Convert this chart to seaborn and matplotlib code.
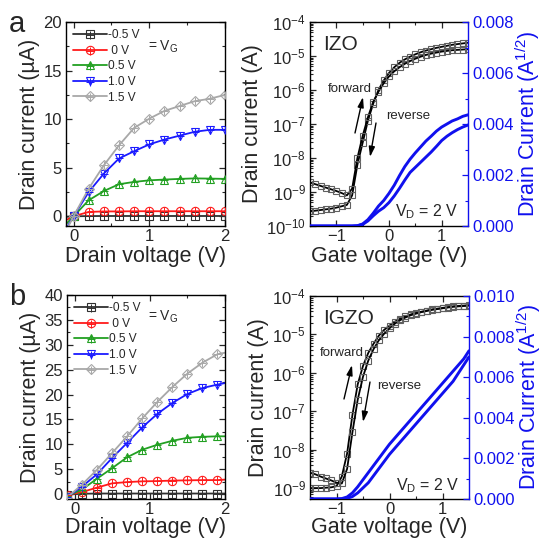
import numpy as np
import matplotlib
matplotlib.use('Agg')
import matplotlib.pyplot as plt
import seaborn as sns
from matplotlib.ticker import MultipleLocator, LogLocator, FormatStrFormatter, NullFormatter
from matplotlib.legend_handler import HandlerTuple

sns.set_theme(style='ticks')
plt.rcParams['font.family'] = ['Liberation Sans', 'DejaVu Sans']
plt.rcParams['mathtext.fontset'] = 'custom'
plt.rcParams['mathtext.rm'] = 'Liberation Sans'
plt.rcParams['mathtext.it'] = 'Liberation Sans:italic'
plt.rcParams['mathtext.default'] = 'regular'

# ---- output curves (Id vs Vd), values in uA ----
vg_labels = ['-0.5 V', ' 0 V', '0.5 V', '1.0 V', '1.5 V']
colors = ['#303030', '#ff1a1a', '#22a022', '#1a1aff', '#a8a8a8']
markers = ['s', 'o', '^', 'v', 'D']

# IZO (panel a), markers from 0 V on
vd_a = [-0.1, 0.0, 0.2, 0.4, 0.6, 0.8, 1.0, 1.2, 1.4, 1.6, 1.8, 2.0]
ia_m05 = [-0.05, 0.0, 0.02, 0.03, 0.03, 0.03, 0.03, 0.03, 0.03, 0.03, 0.03, 0.03]
ia_0 = [-0.4, 0.0, 0.45, 0.5, 0.5, 0.52, 0.52, 0.52, 0.52, 0.52, 0.52, 0.52]
ia_05 = [-0.8, 0.0, 1.65, 2.6, 3.3, 3.54, 3.7, 3.78, 3.85, 3.9, 3.88, 3.85]
ia_10 = [-1.3, 0.0, 2.5, 4.4, 5.95, 6.7, 7.4, 7.9, 8.3, 8.7, 8.9, 8.9]
ia_15 = [-1.5, 0.0, 2.85, 5.25, 7.3, 9.1, 10.05, 10.85, 11.35, 11.85, 12.1, 12.5]

# IGZO (panel b), last point has no marker
vd_b = [-0.1, 0.1, 0.3, 0.5, 0.7, 0.9, 1.1, 1.3, 1.5, 1.7, 1.9, 2.0]
ib_m05 = [-0.1, 0.05, 0.1, 0.1, 0.1, 0.1, 0.1, 0.1, 0.1, 0.1, 0.1, 0.1]
ib_0 = [-0.2, 0.4, 1.3, 2.15, 2.4, 2.55, 2.6, 2.7, 2.75, 2.8, 2.8, 2.9]
ib_05 = [-0.4, 0.9, 3.1, 5.2, 7.4, 8.9, 9.9, 10.7, 11.3, 11.5, 11.6, 11.6]
ib_10 = [-0.6, 1.5, 4.0, 7.25, 10.3, 13.4, 16.1, 18.3, 20.1, 21.3, 22.0, 22.3]
ib_15 = [-0.7, 1.9, 4.9, 8.25, 11.6, 15.2, 18.5, 21.5, 24.2, 26.4, 28.1, 28.4]

# ---- transfer curves (Id vs Vg), log10(Id / A) and sqrt(Id) ----
vg = [-1.5, -1.4, -1.3, -1.2, -1.1, -1.0, -0.9, -0.8, -0.7, -0.6, -0.5, -0.4, -0.3, -0.2, -0.1,
      0.0, 0.1, 0.2, 0.3, 0.4, 0.5, 0.6, 0.7, 0.8, 0.9, 1.0, 1.1, 1.2, 1.3, 1.4, 1.5]

izo_fwd_exp = [-9.57, -9.55, -9.53, -9.51, -9.49, -9.46, -9.42, -9.38, -9.10, -8.20, -7.55, -6.90, -6.40,
               -6.00, -5.72, -5.50, -5.33, -5.20, -5.10, -5.02, -4.95, -4.89, -4.84, -4.80, -4.76, -4.73,
               -4.70, -4.67, -4.65, -4.63, -4.61]
izo_rev_exp = [-8.72, -8.77, -8.82, -8.87, -8.92, -8.97, -9.03, -9.10, -8.90, -8.00, -7.35, -6.80, -6.35,
               -6.05, -5.80, -5.60, -5.45, -5.33, -5.23, -5.15, -5.08, -5.02, -4.97, -4.93, -4.90, -4.87,
               -4.85, -4.83, -4.82, -4.81, -4.80]
izo_sq_1 = [0, 0, 0, 0, 0, 0, 0, 0, 0, 0.00001, 0.00008, 0.00025, 0.0005, 0.00078, 0.00100, 0.00128,
            0.00160, 0.00198, 0.00233, 0.00262, 0.00287, 0.00310, 0.00333, 0.00352, 0.00372, 0.00388,
            0.00400, 0.00412, 0.00420, 0.00430, 0.00436]
izo_sq_2 = [0, 0, 0, 0, 0, 0, 0, 0, 0, 0.00001, 0.00006, 0.0002, 0.0004, 0.00058, 0.00072, 0.00092,
            0.00118, 0.00148, 0.0018, 0.0021, 0.0023, 0.0025, 0.0027, 0.0029, 0.00312, 0.00335,
            0.00352, 0.00366, 0.00378, 0.00388, 0.00396]

igzo_fwd_exp = [-9.00, -9.00, -9.00, -8.99, -8.98, -8.95, -8.70, -8.10, -7.10, -6.30, -5.82, -5.48, -5.24,
                -5.03, -4.88, -4.77, -4.67, -4.59, -4.53, -4.48, -4.44, -4.41, -4.38, -4.35, -4.33, -4.31,
                -4.29, -4.27, -4.26, -4.25, -4.24]
igzo_rev_exp = [-8.60, -8.64, -8.70, -8.75, -8.80, -8.86, -8.88, -8.50, -7.55, -6.70, -6.10, -5.68, -5.38,
                -5.15, -4.98, -4.84, -4.72, -4.63, -4.56, -4.50, -4.46, -4.42, -4.39, -4.36, -4.34, -4.32,
                -4.30, -4.28, -4.27, -4.26, -4.25]
igzo_sq_1 = [0, 0, 0, 0, 0, 0, 0.00002, 0.0001, 0.0003, 0.0006, 0.00095, 0.0013, 0.00165, 0.002, 0.00235,
             0.0027, 0.003, 0.0033, 0.0036, 0.0039, 0.0042, 0.0045, 0.0048, 0.0051, 0.0054, 0.0057,
             0.006, 0.0063, 0.0066, 0.0069, 0.0073]
igzo_sq_2 = [0, 0, 0, 0, 0, 0, 0, 0.00003, 0.00012, 0.0003, 0.00055, 0.0008, 0.00115, 0.0015, 0.00185,
             0.0022, 0.0025, 0.0028, 0.0031, 0.0034, 0.0037, 0.004, 0.0043, 0.0046, 0.0049, 0.0052,
             0.0055, 0.0058, 0.0062, 0.0066, 0.0070]

W, H = 543, 553
BLUE = '#1010ee'
LABEL_FS = 15.5
TICK_FS = 12


def fx(px):
    return px / W


def fy(py):
    return 1 - py / H


def box(x0, y0, x1, y1):
    return [fx(x0), fy(y1), (x1 - x0) / W, (y1 - y0) / H]


def output_panel(ax, vd, curves, mk_slice, ylim, vg_y, xpad):
    handles = []
    for vals, c, m, lab in zip(curves, colors, markers, vg_labels):
        ms = 5.5 if m == 'D' else 6
        sns.lineplot(x=vd, y=vals, ax=ax, color=c, lw=1.3, marker=m, markersize=ms,
                     markerfacecolor='none', markeredgecolor=c, markeredgewidth=0.8,
                     markevery=mk_slice, estimator=None, sort=False)
        line = ax.lines[-1]
        sns.scatterplot(x=vd[mk_slice], y=vals[mk_slice], ax=ax, marker='+', s=40, color=c,
                        linewidth=0.7, legend=False, zorder=3)
        handles.append((line, ax.collections[-1]))
    ax.set_xlim(-0.1, 2)
    ax.set_ylim(*ylim)
    ax.xaxis.set_major_locator(MultipleLocator(1))
    ax.xaxis.set_minor_locator(MultipleLocator(0.5))
    ax.yaxis.set_major_locator(MultipleLocator(5))
    ax.yaxis.set_minor_locator(MultipleLocator(2.5))
    ax.tick_params(which='both', direction='in', top=True, right=True, labelsize=TICK_FS, pad=3)
    ax.tick_params(axis='x', pad=2.5)
    ax.tick_params(which='major', length=4, width=0.9)
    ax.tick_params(which='minor', length=2.5, width=0.8)
    ax.set_xlabel('Drain voltage (V)', fontsize=LABEL_FS, labelpad=xpad)
    ax.set_ylabel('Drain current (\u00b5A)', fontsize=LABEL_FS, labelpad=2)
    for s in ax.spines.values():
        s.set_linewidth(1.0)
        s.set_color('black')
    ax.legend(handles, vg_labels, loc='upper left', bbox_to_anchor=(0.0, 1.0), frameon=False,
              fontsize=8.6, handlelength=2.8, handletextpad=0.15, labelspacing=0.3,
              borderaxespad=0.3, borderpad=0.3, scatterpoints=1,
              handler_map={tuple: HandlerTuple(ndivide=1, pad=0)})
    fig.text(fx(148), fy(vg_y), '= V$_G$', fontsize=10, va='center', ha='left')


def transfer_panel(ax, fwd, rev, sq1, sq2, ylim, sqmax, name, txt_px, xpad):
    ax.set_yscale('log')
    for e in (fwd, rev):
        sns.lineplot(x=vg, y=np.power(10.0, e), ax=ax, color='black', lw=1.3, marker='s', markersize=4.0,
                     markerfacecolor='none', markeredgecolor='#606060', markeredgewidth=0.8,
                     estimator=None, sort=False)
    ax.set_xlim(-1.5, 1.5)
    ax.set_ylim(*ylim)
    ax.yaxis.set_major_locator(LogLocator(base=10, numticks=12))
    ax.yaxis.set_minor_locator(LogLocator(base=10, subs=np.arange(2, 10), numticks=12))
    ax.yaxis.set_minor_formatter(NullFormatter())
    ax.xaxis.set_major_locator(MultipleLocator(1))
    ax.xaxis.set_minor_locator(MultipleLocator(0.5))
    ax.tick_params(which='both', direction='in', top=True, right=False, labelsize=TICK_FS, pad=3)
    ax.tick_params(axis='x', pad=2.5)
    ax.tick_params(which='major', length=4, width=0.9)
    ax.tick_params(which='minor', length=2.5, width=0.8)
    ax.set_xlabel('Gate voltage (V)', fontsize=LABEL_FS, labelpad=xpad)
    ax.set_ylabel('Drain current (A)', fontsize=LABEL_FS, labelpad=2)
    for s in ax.spines.values():
        s.set_linewidth(1.0)
        s.set_color('black')
    ax.spines['right'].set_visible(False)

    ax2 = ax.twinx()
    for v in (sq1, sq2):
        sns.lineplot(x=vg, y=v, ax=ax2, color=BLUE, lw=2.1, estimator=None, sort=False)
    ax2.set_ylim(0, sqmax)
    ax2.yaxis.set_major_locator(MultipleLocator(0.002))
    ax2.yaxis.set_minor_locator(MultipleLocator(0.001))
    ax2.yaxis.set_major_formatter(FormatStrFormatter('%.3f'))
    ax2.tick_params(which='both', direction='in', colors=BLUE, labelsize=TICK_FS, pad=3)
    ax2.tick_params(which='major', length=4, width=0.9)
    ax2.tick_params(which='minor', length=2.5, width=0.8)
    ax2.set_ylabel('Drain Current (A$^{1/2}$)', fontsize=LABEL_FS, color=BLUE, labelpad=0)
    for k in ('left', 'top', 'bottom'):
        ax2.spines[k].set_visible(False)
    ax2.spines['right'].set_color(BLUE)
    ax2.spines['right'].set_linewidth(1.0)

    (nx, ny), (fwx, fwy), (rvx, rvy), fa, ra, (vdx, vdy) = txt_px
    fig.text(fx(nx), fy(ny), name, fontsize=15, ha='left', va='center')
    fig.text(fx(fwx), fy(fwy), 'forward', fontsize=9.5, ha='left', va='center')
    fig.text(fx(rvx), fy(rvy), 'reverse', fontsize=9.5, ha='left', va='center')
    for (x0, y0, x1, y1) in (fa, ra):
        ax.annotate('', xy=(fx(x1), fy(y1)), xytext=(fx(x0), fy(y0)), xycoords='figure fraction',
                    textcoords='figure fraction',
                    arrowprops=dict(arrowstyle='-|>,head_length=0.5,head_width=0.15', color='black',
                                    lw=1.0, shrinkA=0, shrinkB=0))
    fig.text(fx(vdx), fy(vdy), 'V$_D$ = 2 V', fontsize=11.5, ha='left', va='center')


fig = plt.figure(figsize=(W / 100, H / 100), dpi=100)
fig.patch.set_facecolor('white')

ax_a1 = fig.add_axes(box(66, 22, 225, 226))
ax_a2 = fig.add_axes(box(310, 22, 468, 226))
ax_b1 = fig.add_axes(box(67, 295, 225, 499))
ax_b2 = fig.add_axes(box(310, 296, 469, 499))

output_panel(ax_a1, vd_a, [ia_m05, ia_0, ia_05, ia_10, ia_15], slice(1, None), (-1, 20), 47, 1)
output_panel(ax_b1, vd_b, [ib_m05, ib_0, ib_05, ib_10, ib_15], slice(0, 11), (-1, 40), 317, 0)

transfer_panel(ax_a2, izo_fwd_exp, izo_rev_exp, izo_sq_1, izo_sq_2, (1e-10, 1e-4), 0.008, 'IZO',
               [(323, 45), (328, 89), (386, 116), (355, 133, 363, 97), (376, 123, 370, 157), (395, 212)], 1)
transfer_panel(ax_b2, igzo_fwd_exp, igzo_rev_exp, igzo_sq_1, igzo_sq_2, (5.2e-10, 1e-4), 0.010, 'IGZO',
               [(323, 318), (320, 353), (377, 386), (344, 399, 352, 365), (370, 382, 363, 422), (396, 486)], 0)

fig.text(fx(17), fy(24), 'a', fontsize=21, ha='center', va='center')
fig.text(fx(17), fy(297), 'b', fontsize=21, ha='center', va='center')

fig.savefig('out.png', dpi=100, facecolor='white')
